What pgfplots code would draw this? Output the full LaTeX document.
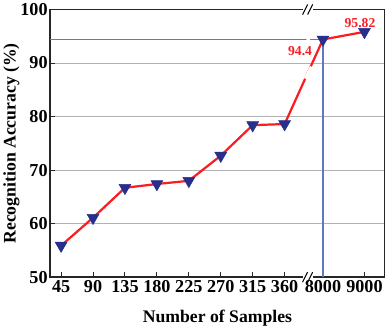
\documentclass[border=0pt]{standalone}
\usepackage{pgfplots}
\pgfplotsset{compat=1.18}
\usepackage{fontspec}
\setmainfont{Liberation Serif}
\definecolor{mred}{RGB}{250,30,35}
\definecolor{mnavy}{RGB}{38,48,140}
\definecolor{mblue}{RGB}{95,120,190}
\begin{document}
\begin{tikzpicture}
\begin{axis}[
 scale only axis, width=331pt, height=265pt,
 xmin=-0.34, xmax=10.13, ymin=50, ymax=100,
 xtick={0,1,2,3,4,5,6,7,8.2,9.5},
 xticklabels={45,90,135,180,225,270,315,360,8000,9000},
 ytick={50,60,...,100},
 tick align=inside, xtick pos=bottom, ytick pos=left,
 major tick length=5pt,
 ymajorgrids, grid style={black!30, line width=0.8pt},
 axis line style={line width=1.5pt, black!85},
 tick style={line width=1pt, black!85},
 ticklabel style={font=\fontsize{18}{18}\selectfont\bfseries},
 yticklabel style={xshift=1pt},
 /pgf/number format/assume math mode=true,
 xlabel={Number of Samples}, ylabel={Recognition Accuracy (\%)},
 label style={font=\fontsize{17.5}{17.5}\selectfont\bfseries},
 xlabel style={yshift=-10pt},
 ylabel style={yshift=-6pt},
 clip=false,
]
\addplot[mblue, line width=1.6pt] coordinates {(-0.34,94.4) (8.2,94.4) (8.2,50)};
\addplot[mred, line width=2.2pt, mark=triangle*, mark size=6.8pt,
  mark options={mnavy, fill=mnavy, rotate=180, solid, line width=0.5pt}]
  coordinates {(0,55.9) (1,61.1) (2,66.7) (3,67.4) (4,68.0) (5,72.7) (6,78.4) (7,78.6) (8.2,94.4) (9.5,95.82)};
\draw[white, line width=3pt] ([shift={(-3pt,-6pt)}]axis cs:7.74,88.2) -- ++(6pt,12pt);
\draw[white, line width=3pt] ([shift={(-3pt,-6pt)}]axis cs:7.74,94.4) -- ++(6pt,12pt);
\draw[white, line width=5pt] ([xshift=-5pt]axis cs:7.72,50) -- ([xshift=5pt]axis cs:7.72,50);
\draw[black, line width=1pt] ([shift={(-5pt,-5pt)}]axis cs:7.72,50) -- ++(5pt,10pt);
\draw[black, line width=1pt] ([shift={(0pt,-5pt)}]axis cs:7.72,50) -- ++(5pt,10pt);
\draw[white, line width=5pt] ([xshift=-5pt]axis cs:7.72,100) -- ([xshift=5pt]axis cs:7.72,100);
\draw[black, line width=1pt] ([shift={(-5pt,-5pt)}]axis cs:7.72,100) -- ++(5pt,10pt);
\draw[black, line width=1pt] ([shift={(0pt,-5pt)}]axis cs:7.72,100) -- ++(5pt,10pt);
\node[mred, font=\fontsize{13.5}{13.5}\selectfont\bfseries, anchor=east] at (axis cs:7.97,92.3) {94.4};
\node[mred, font=\fontsize{13.5}{13.5}\selectfont\bfseries] at (axis cs:9.36,97.4) {95.82};
\end{axis}
\end{tikzpicture}
\end{document}
